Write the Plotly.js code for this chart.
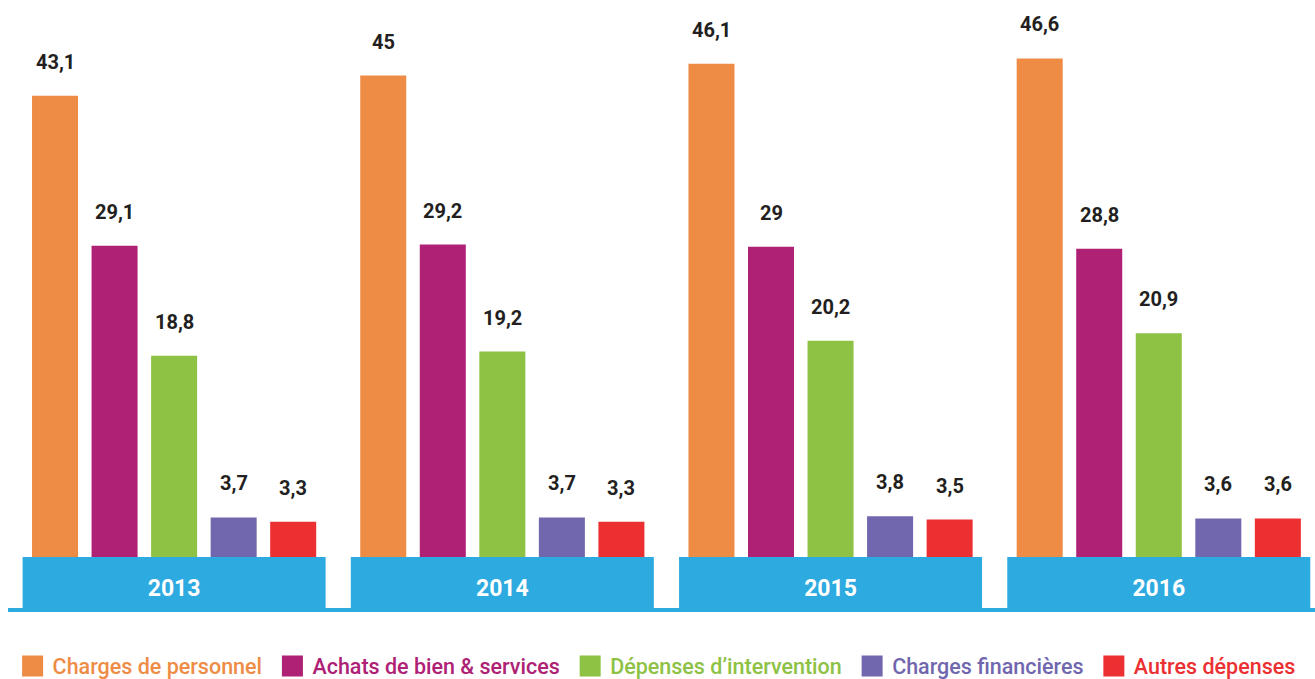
<!DOCTYPE html>
<html>
<head>
<meta charset="utf-8">
<script src="https://cdn.plot.ly/plotly-3.0.1.min.js"></script>
<style>html,body{margin:0;padding:0;background:#fff;}#chart{width:1315px;height:679px;}</style>
</head>
<body>
<div id="chart"></div>
<script>
// ---- data ----
const years = ['2013', '2014', '2015', '2016'];
const seriesNames = ['Charges de personnel', 'Achats de bien & services', 'Dépenses d\u2019intervention', 'Charges financières', 'Autres dépenses'];
const chargesPersonnel = [43.1, 45, 46.1, 46.6];
const achatsBienServices = [29.1, 29.2, 29, 28.8];
const depensesIntervention = [18.8, 19.2, 20.2, 20.9];
const chargesFinancieres = [3.7, 3.7, 3.8, 3.6];
const autresDepenses = [3.3, 3.3, 3.5, 3.6];
const seriesValues = [chargesPersonnel, achatsBienServices, depensesIntervention, chargesFinancieres, autresDepenses];
const seriesColors = ['#EE8C45', '#AE2175', '#8DC244', '#7067AE', '#EC3032'];

// ---- style ----
const FONT = 'Roboto, "Open Sans", sans-serif';
const BAND = '#2DAADF';
const BARGAP = 0.093;
const BARGROUPGAP = 0.227;
const fmt = v => String(v).replace('.', ',');

const traces = seriesValues.map((vals, j) => ({
  type: 'bar',
  name: seriesNames[j],
  x: years,
  y: vals,
  marker: {color: seriesColors[j], line: {width: 0}},
  showlegend: false,
  hoverinfo: 'x+y'
}));
// legend entries (large square swatches)
seriesNames.forEach((n, j) => {
  traces.push({
    type: 'scatter', mode: 'markers',
    x: [null], y: [null],
    name: '<span style="color:' + seriesColors[j] + '">' + n + '\u00a0</span>',
    marker: {symbol: 'square', size: 25, color: seriesColors[j], line: {width: 5, color: seriesColors[j]}},
    showlegend: true, hoverinfo: 'skip'
  });
});

const nS = seriesValues.length;
const slot = (1 - BARGAP) / nS;
const annotations = [];
seriesValues.forEach((vals, j) => {
  vals.forEach((v, i) => {
    annotations.push({
      xref: 'x', yref: 'y',
      x: i + (j - (nS - 1) / 2) * slot,
      y: v,
      text: '<b>' + fmt(v) + '</b>',
      showarrow: false,
      yanchor: 'bottom',
      yshift: 20,
      font: {family: FONT, size: 20, color: '#231F20'}
    });
  });
});

const shapes = years.map((y, i) => ({
  type: 'rect', xref: 'x', yref: 'paper',
  x0: i - 0.4616, x1: i + 0.4616,
  ysizemode: 'pixel', yanchor: 0, y0: 0, y1: -51,
  fillcolor: BAND, line: {width: 0}, layer: 'below'
}));
shapes.push({
  type: 'line', xref: 'paper', yref: 'paper',
  x0: -0.0015, x1: 1,
  ysizemode: 'pixel', yanchor: 0, y0: -53, y1: -53,
  line: {color: BAND, width: 4}, layer: 'below'
});

const layout = {
  width: 1315, height: 679,
  margin: {l: 10, r: 0, t: 22, b: 122},
  paper_bgcolor: '#ffffff', plot_bgcolor: 'rgba(0,0,0,0)',
  barmode: 'group', bargap: BARGAP, bargroupgap: BARGROUPGAP,
  font: {family: FONT},
  xaxis: {
    type: 'category', range: [-0.5, 3.476], fixedrange: true,
    showgrid: false, zeroline: false, showline: false, ticks: '',
    tickfont: {family: FONT, size: 23, color: '#ffffff', weight: 'bold'},
    ticklabelstandoff: 15
  },
  yaxis: {range: [0, 50], visible: false, showgrid: false, zeroline: false, fixedrange: true},
  showlegend: true,
  legend: {
    orientation: 'h', x: 0.002, xanchor: 'left', y: 0.019, yanchor: 'middle', yref: 'container',
    font: {family: FONT, size: 21.5, weight: 500}, itemclick: false, itemdoubleclick: false,
    traceorder: 'normal', itemsizing: 'trace'
  },
  annotations: annotations,
  shapes: shapes
};

Plotly.newPlot('chart', traces, layout, {displayModeBar: false, staticPlot: true});
</script>
</body>
</html>
